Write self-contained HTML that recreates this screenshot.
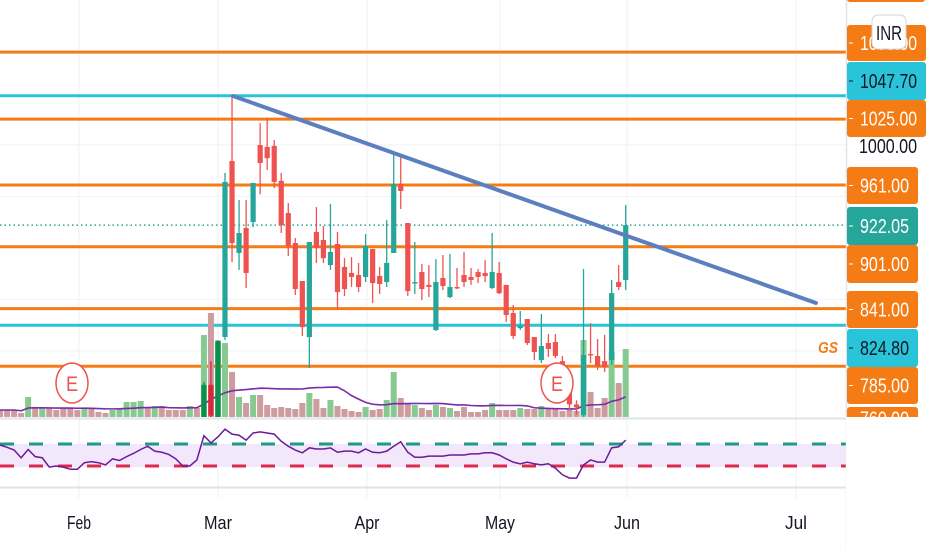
<!DOCTYPE html>
<html><head><meta charset="utf-8"><style>
body{margin:0;background:#fff;width:932px;height:550px;overflow:hidden;font-family:"Liberation Sans",sans-serif}
svg{display:block}
.lbl{font-family:"Liberation Sans Narrow","Liberation Sans",sans-serif;font-size:20px}
</style></head><body>
<svg id="c" width="932" height="550" xmlns="http://www.w3.org/2000/svg">
<defs><clipPath id="pc"><rect x="0" y="0" width="846" height="417"/></clipPath></defs>
<g id="grid"></g>
<g id="hlines"></g>
<g id="vol"></g>
<g id="candles" clip-path="url(#pc)"></g>
<g id="rsi"></g>
<g id="axis"></g>
<g id="xaxis"></g>
</svg>
<script>
const preUp=[0,0,0,0,1,0,1,0,0,0,0,0,1,0,0,0,1,1,1,1,1,0,1,0,0,0,0,1,0];
const opens=[735,767,735,813.4,984.3,895,919.2,925,999.8,998,999,965,933.8,904.7,867.8,813.4,915.4,907.6,883.3,903.7,881.4,875.6,873.6,871.7,898.9,872.6,866.8,895,962,924.1,865.8,876.5,864,820.2,870.7,852.2,862,873.6,871.7,876.5,875.6,861,875.6,864,836.7,822.1,830.9,813.4,791,807.6,808.6,790,765,748,737.7,797,795,790,791,866.8,868.8];
const highs=[770,790,810,972.7,1048.4,946.4,946.4,963,1021,1026,1004.7,972.7,943.5,909.5,867.8,905.7,939.6,921.2,942.6,915.4,890,891,885.3,913.4,898.9,881.4,927,993,990,924.1,905.7,884.3,883.3,889,893,894,880.4,896,880.4,879.4,888,914.4,886.2,864,844.5,838.7,830.9,813.4,835.7,816.3,816.3,795,770,752,879.4,827,811.5,815.4,868.8,883.3,941.6];
const lows=[733,735,733,810.5,886.2,878.5,861,920,952,975.6,958,914.4,892,854.2,814.4,783.3,885.3,885.3,878.5,839.6,853.2,862,857,866.8,846.4,855.2,862,895,937.7,853.2,855.2,849.3,852.2,819.2,859,851.3,860,862,864,865.8,866.8,860,855.2,828,811.5,820.2,805.6,791,788.2,794,793,760,742,738,736,788,781.4,779.4,786.2,859,859];
const closes=[767,737,810,964,904.7,914.4,875.6,963,982.4,987,964,922,901.8,860,823,905.7,899.8,890,896,857,860,871.7,862,901.8,865.8,864.9,885.3,962,955.2,858,866.8,860,862,866.8,863,862,861,866.8,868.8,871.7,872.6,876.5,856,834.8,814.4,824.1,807.6,798.8,804.7,801.8,795,765,748,745,796,796,785.2,784.3,856,862,922.05];
const volumes=[7,7,7,4,20,10,9,9,7,9,9,7,9,8,5,4,7,9,15,15,16,9,11,11,7,7,7,11,9,82,104,75,74,45,20,14,22,22,12,9,10,9,8,14,24,18,9,17,11,8,6,5,10,7,8,17,45,19,14,12,9,7,12,10,9,6,10,5,5,7,14,7,7,7,9,8,8,11,8,8,6,8,6,77,25,9,19,65,34,68];
const rsiVals=[68,64,59,45,60,47,45,28,30,28,24,24,36,38,36,32,43,40,47,53,60,66,57,55,51,43,30,30,41,85,72,83,97,88,86,77,90,92,90,88,75,66,59,54,63,61,61,63,55,57,57,54,61,55,54,57,66,74,55,46,46,48,48,48,50,50,50,52,52,54,54,50,43,37,34,37,34,32,34,26,14,8,8,32,41,37,37,63,65,77];
const orangeLevels=[1090,1025,961,901,841,785];
const cyanLevels=[1047.7,824.8];
const months=["Feb","Mar","Apr","May","Jun","Jul"];
const monthX=[79,218,367,500,627,796];

const NS="http://www.w3.org/2000/svg";
function mk(t,a,p){const e=document.createElementNS(NS,t);for(const k in a)e.setAttribute(k,a[k]);p.appendChild(e);return e;}
const py=p=>185+(961-p)*1.03;
const dx=i=>225+(i-32)*7.03;
const vy=v=>417-v;
const ry=r=>444+(70-r)*22/40;
const G=id=>document.getElementById(id);

const grid=G('grid');
monthX.forEach(x=>{const l=mk('line',{x1:x,x2:x,y1:0,y2:498,stroke:'#eef0f3','stroke-width':1},grid);
});
[1000,950,900,850,800].forEach(p=>{const l=mk('line',{x1:0,x2:846,y1:py(p),y2:py(p),stroke:'#f0f2f5'},grid);
});

const vol=G('vol');
volumes.forEach((v,i)=>{let up;const k=i-29;if(k<0)up=preUp[i];else up=closes[k]>=opens[k];
const r=mk('rect',{x:dx(i)-3,y:vy(v),width:6,height:v,fill:up?'#86c991':'#cc9c9e'},vol);
});
let ma='';for(let i=0;i<volumes.length;i++){let s=0,n=0;for(let j=Math.max(0,i-19);j<=i;j++){s+=volumes[j];n++;}ma+=(i?'L':'M')+dx(i)+' '+vy(s/n);}
const mal=mk('path',{d:ma,fill:'none',stroke:'#7b2aa8','stroke-width':1.6},vol);


const hl=G('hlines');
orangeLevels.forEach(p=>{const l=mk('line',{x1:0,x2:846,y1:py(p),y2:py(p),stroke:'#f57c14','stroke-width':3},hl);
});
cyanLevels.forEach(p=>{const l=mk('line',{x1:0,x2:846,y1:py(p),y2:py(p),stroke:'#29c3da','stroke-width':3},hl);
});
const dl=mk('line',{x1:0,x2:846,y1:py(922.05),y2:py(922.05),stroke:'#26a69a','stroke-width':1.5,'stroke-dasharray':'1.5 3'},hl);


const cg=G('candles');
opens.forEach((o,k)=>{const i=k+29,x=dx(i),c=closes[k],up=c>=o;
const cc=(k<3)?(up?'#0b8f4a':'#d9283c'):(up?'#26a69a':'#ef5350');
const w=mk('line',{x1:x,x2:x,y1:py(highs[k]),y2:py(lows[k]),stroke:cc,'stroke-width':1.3},cg);

const t=py(Math.max(o,c)),b=py(Math.min(o,c));
const r=mk('rect',{x:x-2.6,y:t,width:5.2,height:Math.max(1.5,b-t),fill:cc},cg);
});

const tl=mk('line',{x1:233,y1:96,x2:816,y2:303,stroke:'#5b7fbf','stroke-width':4,'stroke-linecap':'round'},cg);


[72,557].forEach(x=>{const g=mk('g',{},cg);

mk('ellipse',{cx:x,cy:383,rx:16,ry:20,fill:'#fff',stroke:'#ef5350','stroke-width':1.5},g);
const t=mk('text',{x:x,y:391,'text-anchor':'middle','font-size':21,fill:'#ef5350','font-family':'Liberation Sans, sans-serif',textLength:12,lengthAdjust:'spacingAndGlyphs'},g);t.textContent='E';});
const gs=mk('text',{x:818,y:353,'font-size':16,'font-weight':'bold','font-style':'italic',fill:'#f57c14','font-family':'Liberation Sans, sans-serif',textLength:20,lengthAdjust:'spacingAndGlyphs'},cg);
gs.textContent='GS';

const rg=G('rsi');
const sep=mk('line',{x1:0,x2:846,y1:418.5,y2:418.5,stroke:'#e0e3eb','stroke-width':2},rg);

const band=mk('rect',{x:0,y:ry(70),width:846,height:ry(30)-ry(70)+1,fill:'#f3e7fc'},rg);

const up70=mk('line',{x1:0,x2:846,y1:ry(70),y2:ry(70),stroke:'#1e9a88','stroke-width':3,'stroke-dasharray':'14 15'},rg);

const lo30=mk('line',{x1:0,x2:846,y1:ry(30),y2:ry(30),stroke:'#dd2a4e','stroke-width':3,'stroke-dasharray':'14 15'},rg);

let rd='';rsiVals.forEach((r,i)=>{rd+=(i?'L':'M')+dx(i)+' '+ry(r);});
const rl=mk('path',{d:rd,fill:'none',stroke:'#6a1b9a','stroke-width':1.5},rg);

const bb=mk('line',{x1:0,x2:846,y1:487.5,y2:487.5,stroke:'#e0e3eb','stroke-width':2},rg);


const ax=G('axis');
const vs=mk('line',{x1:846.5,x2:846.5,y1:0,y2:550,stroke:'#e0e3eb','stroke-width':1.5},ax);

const labels=[
 {t:'',y0:-10,y1:2,bg:'#f57c14',fg:'#fff',w:78},
 {t:'1090.00',y0:25,y1:61,bg:'#f57c14',fg:'#fff',w:79},
 {t:'1047.70',y0:62,y1:100,bg:'#29c3da',fg:'#131722',w:79},
 {t:'1025.00',y0:100,y1:137,bg:'#f57c14',fg:'#fff',w:79},
 {t:'961.00',y0:167,y1:204,bg:'#f57c14',fg:'#fff',w:71},
 {t:'922.05',y0:207,y1:245,bg:'#26a69a',fg:'#fff',w:71},
 {t:'901.00',y0:245,y1:283,bg:'#f57c14',fg:'#fff',w:71},
 {t:'841.00',y0:291,y1:328,bg:'#f57c14',fg:'#fff',w:71},
 {t:'824.80',y0:329,y1:367,bg:'#29c3da',fg:'#131722',w:71},
 {t:'785.00',y0:367,y1:404,bg:'#f57c14',fg:'#fff',w:71},
 {t:'760.00',y0:407,y1:430,bg:'#f57c14',fg:'#fff',w:71}];
const plain=mk('text',{x:859,y:153,fill:'#131722',class:'lbl',textLength:58,lengthAdjust:'spacingAndGlyphs'},ax);plain.textContent='1000.00';

labels.forEach(L=>{const g=mk('g',{},ax);

mk('rect',{x:847,y:L.y0,width:L.w,height:L.y1-L.y0,rx:3,fill:L.bg},g);
mk('line',{x1:849,x2:853,y1:(L.y0+L.y1)/2,y2:(L.y0+L.y1)/2,stroke:L.fg,'stroke-width':1},g);
const a={x:860,y:(L.y0+L.y1)/2+7,fill:L.fg,class:'lbl'};
if(L.t){a.textLength=L.t.length===7?57:49;a.lengthAdjust='spacingAndGlyphs';}
const t=mk('text',a,g);t.textContent=L.t;});
const cover=mk('rect',{x:846,y:417,width:86,height:133,fill:'#fff'},ax);

const inr=mk('g',{},ax);
mk('rect',{x:872,y:15,width:34,height:34,rx:6,fill:'#fff',stroke:'#d1d4dc','stroke-width':1},inr);
const it=mk('text',{x:889,y:40,'text-anchor':'middle',fill:'#131722',class:'lbl',textLength:26,lengthAdjust:'spacingAndGlyphs'},inr);it.textContent='INR';

const xa=G('xaxis');
const mW=[24,28,25,30,26,22];
months.forEach((m,i)=>{const t=mk('text',{x:monthX[i],y:529,'text-anchor':'middle','font-size':18,fill:'#131722','font-family':'Liberation Sans, sans-serif',textLength:mW[i],lengthAdjust:'spacingAndGlyphs'},xa);
t.textContent=m;});
</script>
</body></html>
